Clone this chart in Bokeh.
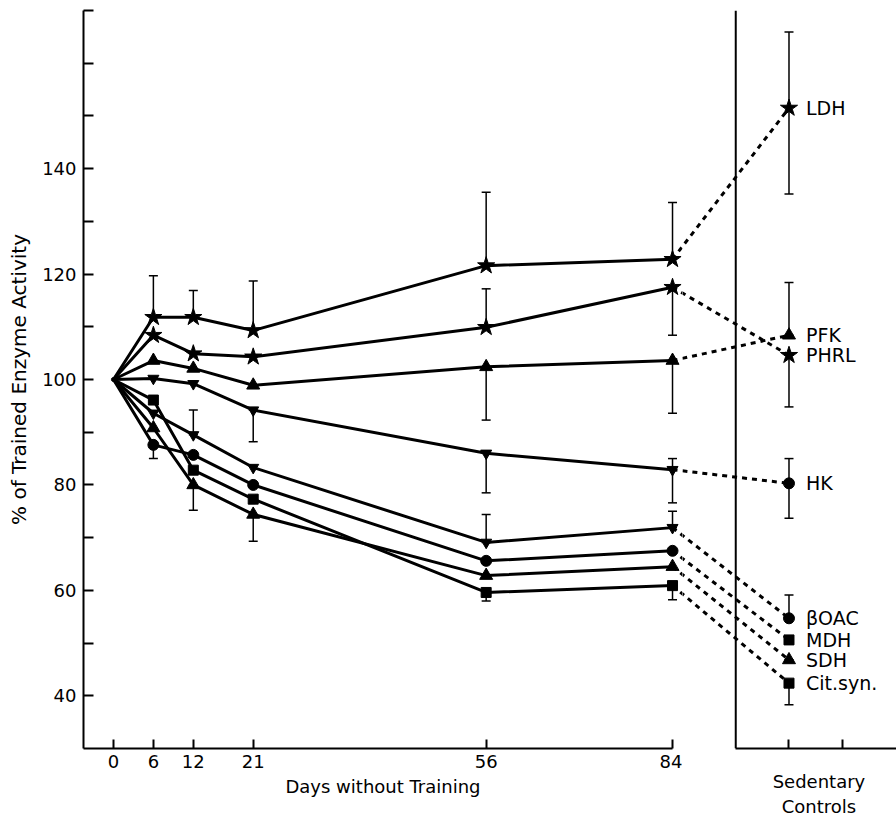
from bokeh.plotting import figure
from bokeh.models import ColumnDataSource, FixedTicker, Span, Whisker, TeeHead, Range1d
from bokeh.layouts import row
from bokeh.embed import file_html
from bokeh.resources import INLINE
from bokeh.core.properties import value

# ---------------- data ----------------
days = [0, 6, 12, 21, 56, 84]
enzymes = ["LDH", "PHRL", "PFK", "HK", "βOAC", "MDH", "SDH", "Cit.syn."]

ldh = [100, 111.8, 111.8, 109.3, 121.6, 122.8]
phrl = [100, 108.4, 104.9, 104.3, 109.9, 117.5]
pfk = [100, 103.6, 102.1, 98.9, 102.4, 103.6]
hk = [100, 100.2, 99.2, 94.2, 86.0, 82.9]
boac = [100, 93.6, 89.5, 83.3, 69.1, 71.9]
mdh = [100, 87.6, 85.7, 80.0, 65.6, 67.5]
sdh = [100, 90.8, 80.0, 74.4, 62.8, 64.5]
citsyn = [100, 96.1, 82.8, 77.3, 59.6, 60.9]
series = [ldh, phrl, pfk, hk, boac, mdh, sdh, citsyn]

sedentary_x = 101.5          # position of the "Sedentary Controls" column
sedentary = [151.5, 104.6, 108.4, 80.3, 54.7, 50.6, 46.8, 42.4]
sed_low = [135.2, 94.8, 108.4, 73.7, 54.7, 50.6, 46.8, 38.3]
sed_high = [165.9, 104.6, 118.4, 85.0, 59.1, 50.6, 46.8, 42.4]

course_marker = ["star", "star", "triangle", "inverted_triangle",
                 "inverted_triangle", "circle", "triangle", "square"]
sed_marker = ["star", "star", "triangle", "circle",
              "circle", "square", "triangle", "square"]

# error bars on the time course (day, low, high)
err_day = [6, 12, 21, 56, 84,
           56, 84,
           56, 84,
           21, 56, 84,
           12, 56, 84,
           6,
           12, 21,
           56, 84]
err_low = [111.8, 111.8, 109.3, 121.6, 122.8,
           109.9, 108.4,
           92.3, 93.6,
           88.2, 78.5, 76.6,
           89.5, 69.1, 71.9,
           85.0,
           75.2, 69.3,
           58.0, 58.2]
err_high = [119.7, 116.9, 118.7, 135.5, 133.6,
            117.2, 117.5,
            102.4, 103.6,
            94.2, 86.0, 85.0,
            94.2, 74.4, 75.0,
            87.6,
            80.0, 74.4,
            59.6, 60.9]

day_ticks = [0, 6, 12, 21, 56, 84]
y_ticks = list(range(40, 171, 10))
y_labels = {t: (str(t) if (t % 20 == 0 and t <= 140) else "") for t in y_ticks}
sed_ticks = [101.5, 109.6]
sed_label_x = 106.0
sed_label = "Sedentary\nControls"

# ---------------- styling ----------------
FONT = "DejaVu Sans"
PX = 6.656            # pixels per day (shared by both panels)
Y0, Y1 = 30, 170
W, H = 896, 819
TOP, BOTTOM = 10, 70
LEFT_BORDER = 83
SPLIT = 85.5          # where the left panel hands over to the right panel
PANEL_EDGE = 93.5     # left frame line of the Sedentary panel
XMIN = -4.5

size_of = {"star": 18, "triangle": 13, "inverted_triangle": 11,
           "circle": 11, "square": 10}

yr = Range1d(Y0, Y1)


def draw_data(p):
    # dotted links day 84 -> sedentary controls
    for vals, sed in zip(series, sedentary):
        p.line([days[-1], sedentary_x], [vals[-1], sed], line_color="black",
               line_width=3, line_dash="5 5")
    # time-course lines
    for vals in series:
        p.line(days, vals, line_color="black", line_width=3)
    # error bars
    src = ColumnDataSource(dict(x=err_day, lo=err_low, hi=err_high))
    p.add_layout(Whisker(source=src, base="x", lower="lo", upper="hi",
                         line_color="black", line_width=1.5,
                         upper_head=TeeHead(size=9, line_width=1.5),
                         lower_head=TeeHead(size=9, line_width=1.5)))
    ssrc = ColumnDataSource(dict(x=[sedentary_x] * len(sedentary),
                                 lo=sed_low, hi=sed_high))
    p.add_layout(Whisker(source=ssrc, base="x", lower="lo", upper="hi",
                         line_color="black", line_width=1.5,
                         upper_head=TeeHead(size=9, line_width=1.5),
                         lower_head=TeeHead(size=9, line_width=1.5)))
    # markers
    for vals, m in zip(series, course_marker):
        p.scatter(days[1:], vals[1:], marker=m, size=size_of[m],
                  fill_color="black", line_color="black")
    p.scatter(days[:1], [series[0][0]], marker="circle", size=4,
              fill_color="black", line_color="black")
    for sed, m in zip(sedentary, sed_marker):
        p.scatter([sedentary_x], [sed], marker=m, size=size_of[m],
                  fill_color="black", line_color="black")


def base_style(p):
    p.toolbar_location = None
    p.grid.visible = False
    p.outline_line_color = None
    p.background_fill_color = "white"
    p.border_fill_color = "white"
    p.min_border_top = TOP
    p.min_border_bottom = BOTTOM
    p.min_border_right = 0


# ---------------- left panel ----------------
left_w = LEFT_BORDER + round((SPLIT - XMIN) * PX)
pl = figure(width=left_w, height=H, x_range=Range1d(XMIN, SPLIT), y_range=yr,
            output_backend="svg", toolbar_location=None)
base_style(pl)
pl.min_border_left = LEFT_BORDER
draw_data(pl)

xa = pl.xaxis[0]
xa.ticker = FixedTicker(ticks=day_ticks)
xa.bounds = (XMIN, days[-1])
xa.axis_label = "Days without Training"
ya = pl.yaxis[0]
ya.ticker = FixedTicker(ticks=y_ticks)
ya.major_label_overrides = y_labels
ya.axis_label = "% of Trained Enzyme Activity"
for ax in (xa, ya):
    ax.axis_line_width = 2
    ax.major_tick_line_width = 2
    ax.major_tick_in = 10
    ax.major_tick_out = 0
    ax.minor_tick_line_color = None
    ax.major_label_text_font = FONT
    ax.major_label_text_font_size = "18px"
    ax.axis_label_text_font = FONT
    ax.axis_label_text_font_size = "18px"
    ax.axis_label_text_font_style = "normal"
    ax.major_label_text_color = "black"
    ax.axis_label_text_color = "black"
xa.major_tick_in = 9
xa.major_label_standoff = 6
xa.axis_label_standoff = 5
ya.major_label_standoff = 7
ya.axis_label_standoff = 8
ya.axis_label_text_font_size = "20px"

# ---------------- right panel (Sedentary Controls) ----------------
right_w = W - left_w
x_end = SPLIT + right_w / PX
pr = figure(width=right_w, height=H, x_range=Range1d(SPLIT, x_end), y_range=yr,
            output_backend="svg", toolbar_location=None)
base_style(pr)
pr.min_border_left = 0
pr.yaxis.visible = False
draw_data(pr)
pr.text([sedentary_x] * len(enzymes), sedentary, text=enzymes,
        x_offset=17, text_baseline="middle", text_align="left",
        text_font=value(FONT), text_font_size="19px", text_color="black")
pr.add_layout(Span(location=PANEL_EDGE, dimension="height",
                   line_color="black", line_width=2))
ra = pr.xaxis[0]
ra.ticker = FixedTicker(ticks=[sed_label_x], minor_ticks=sed_ticks)
ra.bounds = (PANEL_EDGE, x_end)
ra.major_label_overrides = {sed_label_x: sed_label}
ra.axis_line_width = 2
ra.major_tick_line_color = None
ra.minor_tick_line_color = "black"
ra.minor_tick_line_width = 2
ra.minor_tick_in = 9
ra.minor_tick_out = 0
ra.major_tick_in = 0
ra.major_tick_out = 0
ra.major_label_text_font = FONT
ra.major_label_text_font_size = "18px"
ra.major_label_text_color = "black"
ra.major_label_standoff = 22

layout = row(pl, pr, spacing=0)
open("out.html", "w").write(file_html(layout, INLINE))
